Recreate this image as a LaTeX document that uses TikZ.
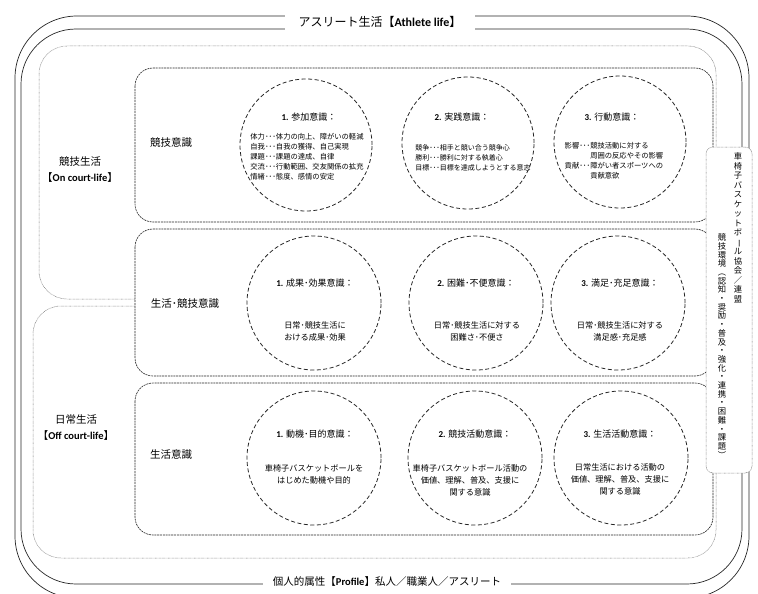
\documentclass[tikz,border=0pt]{standalone}
\usepackage{fontspec}
\usepackage{graphicx}
\setmainfont{Noto Sans CJK JP}
\newfontfamily\lat{Carlito}
\newcommand\vbar[1]{\rotatebox[origin=c]{-90}{#1}}
\begin{document}
\begin{tikzpicture}[x=1pt,y=-1pt,
  solidline/.style={draw=black!85, line width=0.7pt},
  dotline/.style={draw=black!55, line width=0.5pt, dash pattern=on 0.6pt off 0.7pt},
  dashbox/.style={draw=black!85, line width=0.6pt, dash pattern=on 2pt off 0.8pt, fill=white, rounded corners=18pt},
  circ/.style={draw=black!85, line width=0.8pt, dash pattern=on 4pt off 2.5pt},
  ctitle/.style={font=\fontsize{9}{11}\selectfont, inner sep=0pt},
  cbody/.style={font=\fontsize{7.3}{10}\selectfont, inner sep=0pt, align=left},
  cbodyb/.style={font=\fontsize{8.2}{12}\selectfont, inner sep=0pt, align=center},
  lbl/.style={font=\fontsize{10.5}{16}\selectfont, inner sep=0pt, align=center},
  vch/.style={inner sep=0pt, font=\fontsize{8.3}{8.5}\selectfont, text height=6.2pt, text depth=1pt}
]
\useasboundingbox (0,0) rectangle (758,594);
% outer double stadium
\draw[solidline, rounded corners=62pt] (15,16) rectangle (749,598);
\draw[solidline, rounded corners=55pt] (21,29) rectangle (742,584);
% dotted regions
\draw[dotline, rounded corners=28pt] (39,46) rectangle (716,299);
\draw[dotline, rounded corners=28pt] (33,306) rectangle (716,558);
% dashed boxes
\draw[dashbox] (135,68) rectangle (713,222);
\draw[dashbox] (135,229) rectangle (713,376);
\draw[dashbox] (135,383) rectangle (713,535);
% circles
\draw[circ] (306,145) circle[radius=66pt];
\draw[circ] (468,143) circle[radius=66pt];
\draw[circ] (620,142) circle[radius=66pt];
\draw[circ] (314,303) circle[radius=67pt];
\draw[circ] (476,303) circle[radius=67pt];
\draw[circ] (618,303) circle[radius=67pt];
\draw[circ] (314,458) circle[radius=67pt];
\draw[circ] (475,458) circle[radius=67pt];
\draw[circ] (621,458) circle[radius=67pt];
% association box
\node[draw=black!55, line width=0.5pt, dash pattern=on 0.6pt off 0.7pt, fill=white, rounded corners=7pt,
      minimum width=46pt, minimum height=326pt, inner sep=0pt] (assoc) at (729,310) {};
\foreach \c [count=\i from 0] in {車,椅,子,バ,ス,ケ,ッ,ト,ボ,{\vbar{ー}},ル,協,会,／,連,盟}
  \node[vch] (c1-\i) at (738,{157+9.5*\i}) {\c};
\foreach \c [count=\i from 0] in {競,技,環,境,︵,認,知,・,奨,励,・,普,及,・,強,化,・,連,携,・,困,難,・,課,題,︶}
  \node[vch] (c2-\i) at (722,{238+8.7*\i}) {\c};
% titles
\node[font=\fontsize{12}{14}\selectfont, fill=white, inner xsep=14pt, minimum height=22pt] (title) at (380,22) {アスリート生活【{\lat\bfseries Athlete life}】};
\node[font=\fontsize{10.5}{12}\selectfont, fill=white, inner xsep=10pt, minimum height=14pt, inner ysep=0pt] (profile) at (387,582) {個人的属性【{\lat\bfseries Profile}】私人／職業人／アスリート};
% left labels
\node[lbl] (oncourt) at (80,170) {競技生活\\【{\lat\bfseries On court-life}】};
\node[lbl] (offcourt) at (76,428) {日常生活\\【{\lat\bfseries Off court-life}】};
\node[lbl] (kyogi) at (171,143) {競技意識};
\node[lbl] (seikatsukyogi) at (185,304) {生活･競技意識};
\node[lbl] (seikatsu) at (171,455) {生活意識};
% row 1
\node[ctitle] (t11) at (309,117) {{\lat\bfseries 1.} 参加意識：};
\node[cbody] (b11) at (307,157) {体力･･･体力の向上、障がいの軽減\\自我･･･自我の獲得、自己実現\\課題･･･課題の達成、自律\\交流･･･行動範囲、交友関係の拡充\\情緒･･･態度、感情の安定};
\node[ctitle] (t12) at (462,117) {{\lat\bfseries 2.} 実践意識：};
\node[cbody, font=\fontsize{7}{10}\selectfont] (b12) at (473,158) {競争･･･相手と競い合う競争心\\勝利･･･勝利に対する執着心\\目標･･･目標を達成しようとする意志};
\node[ctitle] (t13) at (612,117) {{\lat\bfseries 3.} 行動意識：};
\node[cbody] (b13) at (614,161) {影響･･･競技活動に対する\\\hphantom{影響･･･}周囲の反応やその影響\\貢献･･･障がい者スポーツへの\\\hphantom{貢献･･･}貢献意欲};
% row 2
\node[ctitle] (t21) at (315,283) {{\lat\bfseries 1.} 成果･効果意識：};
\node[cbodyb] (b21) at (315,331) {日常･競技生活に\\おける成果･効果};
\node[ctitle] (t22) at (476,283) {{\lat\bfseries 2.} 困難･不便意識：};
\node[cbodyb] (b22) at (477,331) {日常･競技生活に対する\\困難さ･不便さ};
\node[ctitle] (t23) at (620,283) {{\lat\bfseries 3.} 満足･充足意識：};
\node[cbodyb] (b23) at (620,331) {日常･競技生活に対する\\満足感･充足感};
% row 3
\node[ctitle] (t31) at (315,434) {{\lat\bfseries 1.} 動機･目的意識：};
\node[cbodyb] (b31) at (314,474) {車椅子バスケットボールを\\はじめた動機や目的};
\node[ctitle] (t32) at (475,434) {{\lat\bfseries 2.} 競技活動意識：};
\node[cbodyb] (b32) at (470,480) {車椅子バスケットボール活動の\\価値、理解、普及、支援に\\関する意識};
\node[ctitle] (t33) at (620,434) {{\lat\bfseries 3.} 生活活動意識：};
\node[cbodyb] (b33) at (620,479) {日常生活における活動の\\価値、理解、普及、支援に\\関する意識};
\end{tikzpicture}
\end{document}
